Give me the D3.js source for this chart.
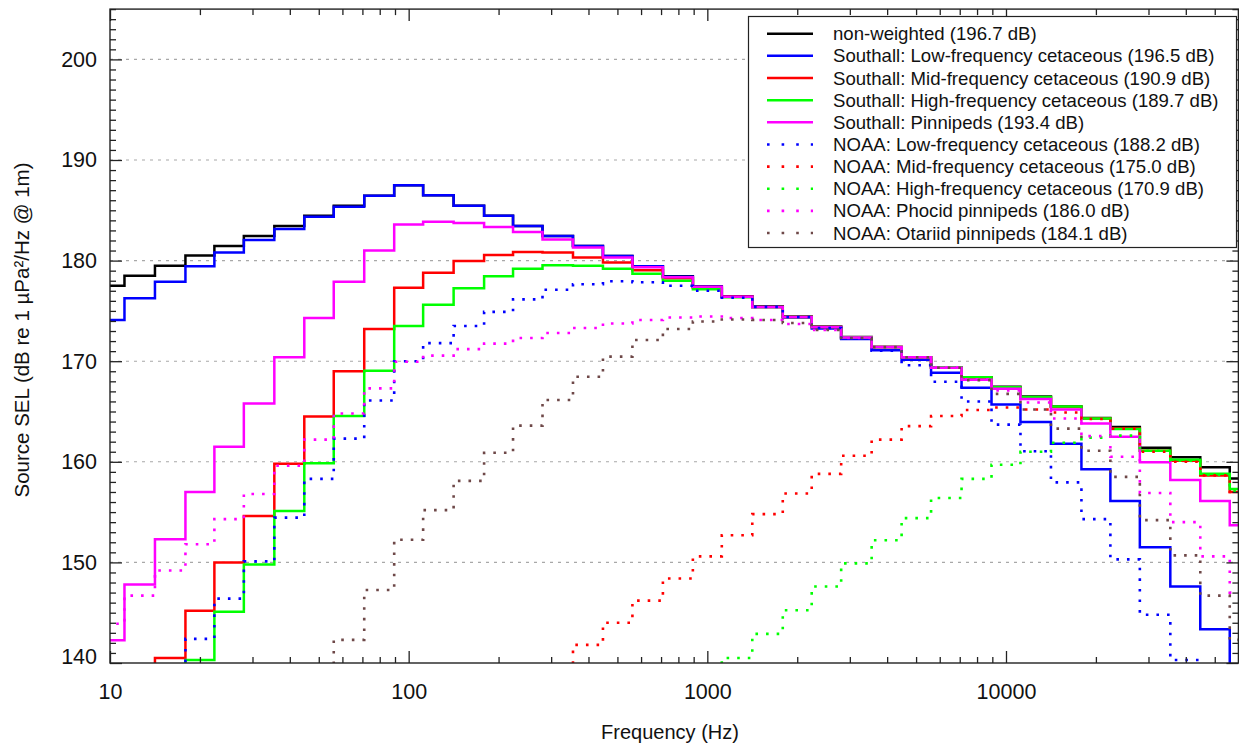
<!DOCTYPE html>
<html>
<head>
<meta charset="utf-8">
<script src="https://cdn.jsdelivr.net/npm/d3@7/dist/d3.min.js"></script>
<style>
  html, body { margin: 0; padding: 0; background: #fff; }
  svg { display: block; font-family: "Liberation Sans", Arial, Helvetica, sans-serif; }
</style>
</head>
<body>
<svg id="chart" width="1239" height="745"></svg>
<script>
// One-third-octave band centre frequencies (Hz)
const bandCenters = [10,12.5,16,20,25,31.5,40,50,63,80,
  100,125,160,200,250,315,400,500,630,800,
  1000,1250,1600,2000,2500,3150,4000,5000,6300,8000,
  10000,12500,16000,20000,25000,31500,40000,50000,63000];

// Band levels, dB re 1 µPa²/Hz @ 1m
const nonWeighted = [177.5,178.5,179.5,180.5,181.45,182.45,183.45,184.45,185.45,186.45,
  187.5,186.5,185.45,184.45,183.45,182.45,181.45,180.45,179.45,178.45,
  177.45,176.45,175.45,174.45,173.45,172.4,171.4,170.4,169.4,168.4,
  167.45,166.5,165.5,164.35,163.45,161.4,160.45,159.45,158.35];
const southallLF = [174.1,176.25,177.9,179.45,180.8,182.05,183.15,184.35,185.35,186.45,
  187.5,186.5,185.45,184.45,183.45,182.45,181.45,180.45,179.45,178.4,
  177.4,176.4,175.4,174.35,173.25,172.2,171.1,170.15,168.85,167.35,
  165.7,163.95,161.8,159.25,156.1,151.5,147.6,143.35,138.5];
const southallMF = [131,135.5,140.5,145.2,150.0,154.6,159.8,164.5,169.0,173.2,
  177.3,178.8,179.95,180.55,180.85,180.8,180.3,179.8,179.05,178.25,
  177.3,176.4,175.4,174.4,173.4,172.35,171.4,170.4,169.35,168.35,
  167.35,166.4,165.45,164.3,163.3,161.1,160.1,158.65,157.0];
const southallHF = [126,131,135.5,140.3,145.1,149.8,155.1,159.85,164.55,169.05,
  173.5,175.6,177.25,178.45,179.2,179.55,179.5,179.2,178.7,178.0,
  177.15,176.35,175.4,174.4,173.4,172.35,171.4,170.4,169.4,168.4,
  167.4,166.45,165.5,164.3,163.25,161.1,160.2,158.8,157.3];
const southallPinn = [142.25,147.8,152.3,157.0,161.5,165.8,170.4,174.3,177.9,181.0,
  183.6,183.85,183.75,183.35,182.85,182.1,181.3,180.3,179.35,178.35,
  177.4,176.4,175.4,174.4,173.4,172.35,171.4,170.4,169.35,168.15,
  167.25,166.25,165.2,163.8,162.5,159.95,158.2,156.1,153.7];
const noaaLF = [128,132,137.5,142.4,146.4,150.1,154.45,158.3,162.3,166.1,
  170.0,171.8,173.5,174.9,176.15,177.1,177.65,177.95,177.85,177.5,
  177.0,176.3,175.4,174.4,173.3,172.25,171.05,169.6,167.95,166.0,
  163.7,161.05,157.95,154.3,150.3,144.8,140.3,135,130];
const noaaMF = [90.5,94,97.5,101,104.5,108,111.5,115,118.5,122,
  125.5,128.5,131.5,134,136.5,139,141.8,144.0,146.2,148.4,
  150.6,152.7,154.8,156.85,158.8,160.6,162.2,163.55,164.55,165.15,
  165.4,165.2,164.9,164.25,163.3,161.0,160.0,158.65,157.0];
const noaaHF = [80,83,86,89,92,95,98,101,104,107,
  110,113,116,119,122,125,128,131,133.5,136,
  138.2,140.5,142.9,145.25,147.6,149.9,152.2,154.4,156.4,158.3,
  159.7,161.0,161.9,162.4,162.6,161.1,160.1,158.7,157.1];
const noaaPhocid = [143.9,146.7,149.2,151.8,154.3,156.8,159.6,162.2,164.8,167.3,
  169.95,170.55,171.2,171.75,172.3,172.8,173.3,173.75,174.1,174.35,
  174.45,174.3,174.1,173.7,173.1,172.3,171.4,170.4,169.4,168.2,
  167.1,165.9,164.3,162.55,160.5,156.9,154.0,150.6,147.0];
const noaaOtariid = [102.5,107.5,112.5,117.5,122.5,127.5,132.5,137.4,142.3,147.25,
  152.25,155.2,158.1,160.9,163.6,166.15,168.45,170.45,172.1,173.2,
  173.95,174.15,174.1,173.8,173.1,172.3,171.4,170.4,169.35,168.1,
  166.75,165.2,163.3,161.1,158.5,154.2,150.7,146.7,142.3];

const seriesLabels = [
  "non-weighted (196.7 dB)",
  "Southall: Low-frequency cetaceous (196.5 dB)",
  "Southall: Mid-frequency cetaceous (190.9 dB)",
  "Southall: High-frequency cetaceous (189.7 dB)",
  "Southall: Pinnipeds (193.4 dB)",
  "NOAA: Low-frequency cetaceous (188.2 dB)",
  "NOAA: Mid-frequency cetaceous (175.0 dB)",
  "NOAA: High-frequency cetaceous (170.9 dB)",
  "NOAA: Phocid pinnipeds (186.0 dB)",
  "NOAA: Otariid pinnipeds (184.1 dB)"
];
const seriesData = [nonWeighted, southallLF, southallMF, southallHF, southallPinn,
  noaaLF, noaaMF, noaaHF, noaaPhocid, noaaOtariid];
const seriesColors = ["#000000","#0000ff","#ff0000","#00ff00","#ff00ff",
  "#0000ff","#ff0000","#00ff00","#ff00ff","#6e4848"];
const seriesDotted = [false,false,false,false,false,true,true,true,true,true];

const yMajorTicks = [140,150,160,170,180,190,200];
const yGridValues = [150,160,170,180,190,200];
const xMajorTicks = [10,100,1000,10000];
const xTickLabels = ["10","100","1000","10000"];

// ---- layout ----
const svg = d3.select("#chart");
const X0 = 110, X1 = 1238.4, Y0 = 9.1, Y1 = 663;

const x = d3.scaleLog().domain([10, 60000]).range([X0, X1]);
const y = d3.scaleLinear().domain([140, 205]).range([Y1, Y0]);

// band edges: geometric means between neighbouring centres
const edges = bandCenters.map((c, i) => {
  const lo = i === 0 ? c / Math.pow(2, 1/6) : Math.sqrt(bandCenters[i-1] * c);
  const hi = i === bandCenters.length - 1 ? c * Math.pow(2, 1/6) : Math.sqrt(c * bandCenters[i+1]);
  return [lo, hi];
});

svg.append("defs").append("clipPath").attr("id", "plotClip")
  .append("rect").attr("x", X0).attr("y", Y0).attr("width", X1 - X0).attr("height", Y1 - Y0);

// horizontal dashed grid
svg.append("g").selectAll("line").data(yGridValues).join("line")
  .attr("x1", X0).attr("x2", X1)
  .attr("y1", d => y(d)).attr("y2", d => y(d))
  .attr("stroke", "#a8a8a8").attr("stroke-width", 1.1)
  .attr("stroke-dasharray", "3,5");

// staircase lines
const stepLine = d3.line().x(d => x(d[0])).y(d => y(d[1]));
function stepPoints(vals) {
  const pts = [];
  vals.forEach((v, i) => { pts.push([edges[i][0], v]); pts.push([edges[i][1], v]); });
  return pts;
}
const plotG = svg.append("g").attr("clip-path", "url(#plotClip)");
seriesData.forEach((vals, i) => {
  plotG.append("path")
    .attr("d", stepLine(stepPoints(vals)))
    .attr("fill", "none")
    .attr("stroke", seriesColors[i])
    .attr("stroke-width", seriesDotted[i] ? 2.6 : 2.5)
    .attr("stroke-linejoin", "miter")
    .attr("stroke-dasharray", seriesDotted[i] ? "2.6,8" : null);
});

// axes: ticks point inward on all four sides
const minorY = d3.range(140, 206, 1).filter(v => v % 10 !== 0);
const minorX = [];
[10,100,1000,10000].forEach(dec => { for (let k = 2; k <= 9; k++) { if (dec*k <= 60000) minorX.push(dec*k); } });

function styleAxis(g) {
  g.select(".domain").remove();
  g.selectAll(".tick line").attr("stroke", "#222").attr("stroke-width", 1.3);
  g.selectAll(".tick text").attr("fill", "#111").style("font-size", "21.5px")
    .style("font-family", "'Liberation Sans', Arial, Helvetica, sans-serif");
}

// bottom
svg.append("g").attr("transform", `translate(0,${Y1})`)
  .call(d3.axisBottom(x).tickValues(xMajorTicks).tickSize(-12).tickPadding(21)
    .tickFormat((d, i) => xTickLabels[i])).call(styleAxis);
svg.append("g").attr("transform", `translate(0,${Y1})`)
  .call(d3.axisBottom(x).tickValues(minorX).tickSize(-6).tickFormat("")).call(styleAxis);
// top
svg.append("g").attr("transform", `translate(0,${Y0})`)
  .call(d3.axisTop(x).tickValues(xMajorTicks).tickSize(-12).tickFormat("")).call(styleAxis);
svg.append("g").attr("transform", `translate(0,${Y0})`)
  .call(d3.axisTop(x).tickValues(minorX).tickSize(-6).tickFormat("")).call(styleAxis);
// left
const leftAxis = svg.append("g").attr("transform", `translate(${X0},0)`)
  .call(d3.axisLeft(y).tickValues(yMajorTicks).tickSize(-12).tickPadding(13)
    .tickFormat(d3.format("d"))).call(styleAxis);
// the lowest label sits a little above the bottom frame
leftAxis.selectAll(".tick text").filter(d => d === 140).attr("y", -6);
svg.append("g").attr("transform", `translate(${X0},0)`)
  .call(d3.axisLeft(y).tickValues(minorY).tickSize(-6).tickFormat("")).call(styleAxis);
// right
svg.append("g").attr("transform", `translate(${X1},0)`)
  .call(d3.axisRight(y).tickValues(yMajorTicks).tickSize(-12).tickFormat("")).call(styleAxis);
svg.append("g").attr("transform", `translate(${X1},0)`)
  .call(d3.axisRight(y).tickValues(minorY).tickSize(-6).tickFormat("")).call(styleAxis);

// frame
svg.append("rect").attr("x", X0).attr("y", Y0).attr("width", X1 - X0).attr("height", Y1 - Y0)
  .attr("fill", "none").attr("stroke", "#222").attr("stroke-width", 1.4);

// axis titles
svg.append("text").attr("x", 670).attr("y", 739).attr("text-anchor", "middle")
  .style("font-size", "20px").attr("fill", "#111").text("Frequency (Hz)");
svg.append("text").attr("transform", "translate(29,330) rotate(-90)").attr("text-anchor", "middle")
  .style("font-size", "20.5px").attr("fill", "#111").text("Source SEL (dB re 1 µPa²/Hz @ 1m)");

// legend
const LX = 748.5, LY = 16.5, LW = 488, LH = 231, rowH = 22.15;
const lg = svg.append("g");
lg.append("rect").attr("x", LX).attr("y", LY).attr("width", LW).attr("height", LH)
  .attr("fill", "#fff").attr("stroke", "#222").attr("stroke-width", 1.2);
seriesLabels.forEach((lab, i) => {
  const yy = 33.7 + i * rowH;
  lg.append("line").attr("x1", 767).attr("x2", 813).attr("y1", yy).attr("y2", yy)
    .attr("stroke", seriesColors[i]).attr("stroke-width", seriesDotted[i] ? 2.6 : 2.5)
    .attr("stroke-dasharray", seriesDotted[i] ? "2.6,12" : null);
  lg.append("text").attr("x", 833).attr("y", yy).attr("dy", "0.35em")
    .style("font-size", "18.6px").attr("fill", "#111").text(lab);
});
</script>
</body>
</html>
